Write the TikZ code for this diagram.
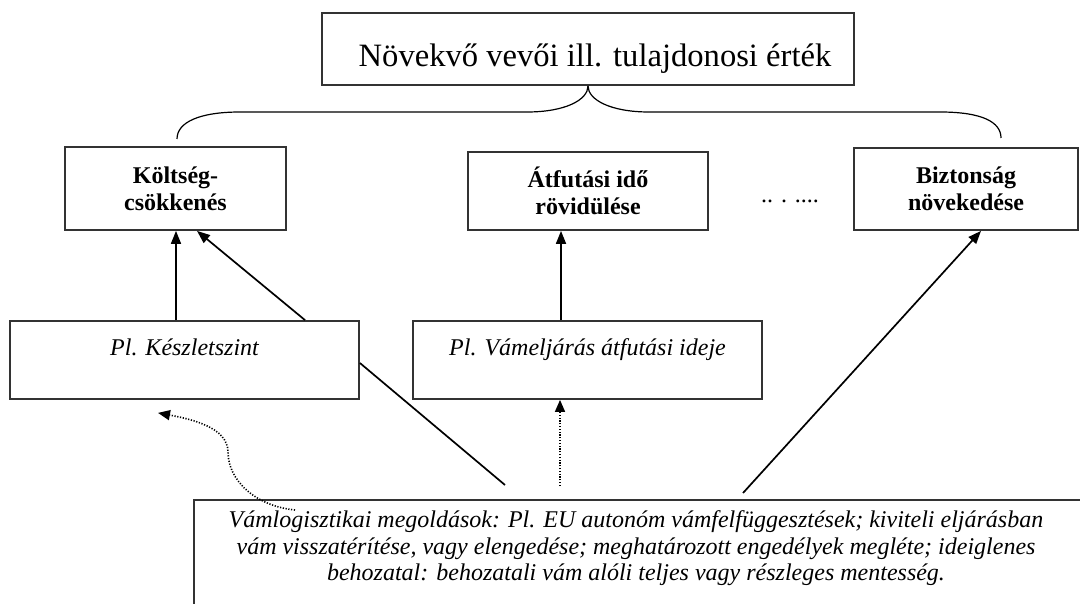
\documentclass[tikz,border=0pt]{standalone}
\usepackage{fontspec}
\setmainfont{Liberation Serif}
\usetikzlibrary{arrows.meta}
\begin{document}
\begin{tikzpicture}[x=0.5pt,y=-0.5pt,
  box/.style={draw=black!80, line width=0.9pt, inner sep=0pt},
  goal/.style={box, align=center, font=\fontsize{12}{13.5}\selectfont\bfseries},
  metric/.style={box, font=\fontsize{12}{13.5}\selectfont\itshape, text height=8pt, text depth=13pt},
  link/.style={line width=0.85pt, -{Triangle[length=6.5pt,width=5pt]}},
  plain/.style={line width=0.85pt},
  dotlink/.style={line width=0.8pt, dash pattern=on 0.6pt off 0.8pt, -{Triangle[length=6pt,width=5pt]}},
  brace/.style={line width=0.6pt}
]
\useasboundingbox (0,0) rectangle (1080,604);
\clip (0,0) rectangle (1080,604);
\fill[white] (0,0) rectangle (1080,604);

% overall goal
\node[box, minimum width=266pt, minimum height=36pt, text height=20pt, text depth=2pt,
      font=\fontsize{16.3}{20}\selectfont] (top) at (588,49)
      {\hspace*{7pt}Növekvő vevői ill. tulajdonosi érték};

% brace under the goal
\coordinate (bl) at (177,139);
\coordinate (br) at (1001,138);
\draw[brace] (bl) .. controls (177,122) and (200,112) .. (240,112) -- (527,112)
  .. controls (565,112) and (588,100) .. (top.south);
\draw[brace] (top.south) .. controls (588,100) and (611,112) .. (649,112) -- (940,112)
  .. controls (982,112) and (1001,122) .. (br);

% partial goals
\node[goal, minimum width=110.5pt, minimum height=41.5pt] (cost) at (175.5,188.5)
  {Költség-\\csökkenés};
\node[goal, minimum width=120pt, minimum height=39pt] (lead) at (588,191)
  {Átfutási idő\\rövidülése};
\node[goal, minimum width=112pt, minimum height=41pt] (safe) at (966,189)
  {Biztonság\\növekedése};
\node[font=\fontsize{12}{14}\selectfont, anchor=base, inner sep=0pt] (more) at (790,203)
  {.. . ....};

% indicators
\node[metric, minimum width=174.5pt, minimum height=39pt] (stock) at (184.5,360)
  {Pl. Készletszint};
\node[metric, minimum width=174.5pt, minimum height=39pt] (clear) at (587.5,360)
  {Pl. Vámeljárás átfutási ideje};

% customs logistics solutions (box runs past the lower and right edges)
\node[box, anchor=north west, minimum width=446pt, minimum height=80pt] (tools) at (193,499) {};
\node[anchor=north, inner sep=0pt, align=center,
      font=\fontsize{12}{13.4}\selectfont\itshape] (toolstext) at (636,510)
  {Vámlogisztikai megoldások: Pl. EU autonóm vámfelfüggesztések; kiviteli eljárásban\\
   vám visszatérítése, vagy elengedése; meghatározott engedélyek megléte; ideiglenes\\
   behozatal: behozatali vám alóli teljes vagy részleges mentesség.};

% connectors
\draw[link] ([xshift=0.25pt]stock.north -| cost.south) -- ([xshift=0.25pt]cost.south);
\draw[link] ([xshift=60.25pt]stock.north) -- ([xshift=10.75pt]cost.south);
\draw[link] ([xshift=-13.25pt]clear.north) -- ([xshift=-13.25pt]clear.north |- lead.south);
\draw[link] ([xshift=275pt,yshift=3pt]tools.north west) -- ([xshift=7.5pt]safe.south);
\draw[plain] ([xshift=156pt,yshift=7pt]tools.north west) -- ([yshift=-1.5pt]stock.east);
\draw[dotlink] ([xshift=183.5pt,yshift=6.5pt]tools.north west) -- ([xshift=-13.75pt]clear.south);
\coordinate (bend) at (228,452);
\draw[dotlink] ([xshift=51pt,yshift=-5.5pt]tools.north west)
  .. controls +(-40,-4) and +(0,28) .. (bend)
  .. controls +(0,-25) and +(32,6) .. ([xshift=-13.25pt,yshift=-6.5pt]stock.south);
\end{tikzpicture}
\end{document}
